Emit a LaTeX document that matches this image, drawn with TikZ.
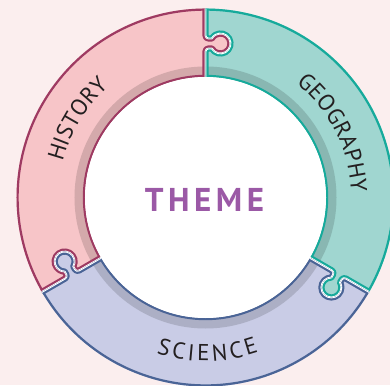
\documentclass[tikz,border=0pt]{standalone}
\usepackage{fontspec}
\usetikzlibrary{calc,decorations.text}
\newfontfamily\labfam{PT Sans}
\newfontfamily\themefam{PT Sans}
\newcommand\labfont{\labfam\fontsize{23pt}{25pt}\selectfont}
\newcommand\themefont{\themefam\bfseries\fontsize{33pt}{36pt}\selectfont}
\definecolor{bgc}{RGB}{251,238,238}
\definecolor{hisf}{RGB}{247,197,200}
\definecolor{hisb}{RGB}{158,58,98}
\definecolor{geof}{RGB}{160,214,208}
\definecolor{geob}{RGB}{22,170,155}
\definecolor{scif}{RGB}{201,204,230}
\definecolor{scib}{RGB}{74,100,150}
\definecolor{themec}{RGB}{155,89,166}
\definecolor{labc}{RGB}{35,31,32}
% point at angle #1, radial distance #2, clockwise offset #3
\newcommand\Pt[3]{($(#1:#2pt)+(#1-90:#3pt)$)}
% boundary from inner to outer radius at angle #1 (tab bulges clockwise)
\newcommand\bndout[1]{%
 -- \Pt{#1}{146}{0}
 arc[start angle=#1+90, end angle=#1, radius=3pt]
 -- \Pt{#1}{149}{6.34}
 arc[start angle=#1+120, end angle=#1+420, radius=10pt]
 -- \Pt{#1}{159}{3}
 arc[start angle=#1+180, end angle=#1+90, radius=3pt]
 -- (#1:189pt)}
% same boundary from outer to inner radius
\newcommand\bndin[1]{%
 -- \Pt{#1}{162}{0}
 arc[start angle=#1+90, end angle=#1+180, radius=3pt]
 -- \Pt{#1}{159}{6.34}
 arc[start angle=#1+60, end angle=#1-240, radius=10pt]
 -- \Pt{#1}{149}{3}
 arc[start angle=#1, end angle=#1+90, radius=3pt]
 -- (#1:120.5pt)}
\newcommand\piece[2]{(#1:189pt) arc[start angle=#1, end angle=#2, radius=189pt] \bndin{#2} arc[start angle=#2, end angle=#1, radius=120.5pt] \bndout{#1} -- cycle}
\newcommand\drawpiece[4]{%
 \fill[#3] \piece{#1}{#2};
 \begin{scope}
  \clip \piece{#1}{#2};
  \fill[black,opacity=.14] (0,0) circle[radius=131pt];
  \draw[#4, arcband] (#1:189pt) arc[start angle=#1,end angle=#2,radius=189pt];
  \draw[#4, arcband] (#1:120.5pt) arc[start angle=#1,end angle=#2,radius=120.5pt];
  \draw[#4, edgeband] (#1:120.5pt) \bndout{#1};
  \draw[#4, edgeband] (#2:120.5pt) \bndout{#2};
  \draw[white, gapband] (#1:120.5pt) \bndout{#1};
  \draw[white, gapband] (#2:120.5pt) \bndout{#2};
 \end{scope}}
\tikzset{
 arcband/.style={line width=4.4pt},
 edgeband/.style={line width=6.2pt, line join=round},
 gapband/.style={line width=1.8pt, line join=round},
 arclabel/.style={decorate, decoration={text along path, text={|\labfont|#1}, text align=fit to path, text color=labc}}
}
\begin{document}
\begin{tikzpicture}
\useasboundingbox (-205.5pt,-187.5pt) rectangle (184.5pt,197.5pt);
\fill[bgc] (-205.5pt,-187.5pt) rectangle (184.5pt,197.5pt);
\drawpiece{90}{210}{hisf}{hisb}
\drawpiece{-30}{90}{geof}{geob}
\drawpiece{210}{330}{scif}{scib}
\fill[white] (0,0) circle[radius=120.5pt];
\path[arclabel=HISTORY] (166:147pt) arc[start angle=166, end angle=131.5, radius=147pt];
\path[arclabel=GEOGRAPHY] (51.5:145.5pt) arc[start angle=51.5, end angle=2, radius=145.5pt];
\path[arclabel=SCIENCE] (252.5:163.5pt) arc[start angle=252.5, end angle=289, radius=163.5pt];
\node[font=\themefont, text=themec, inner sep=0pt] (theme) at (-1pt,-2pt) {T\kern4.5pt H\kern4.5pt E\kern4.5pt M\kern4.5pt E};
\end{tikzpicture}
\end{document}
